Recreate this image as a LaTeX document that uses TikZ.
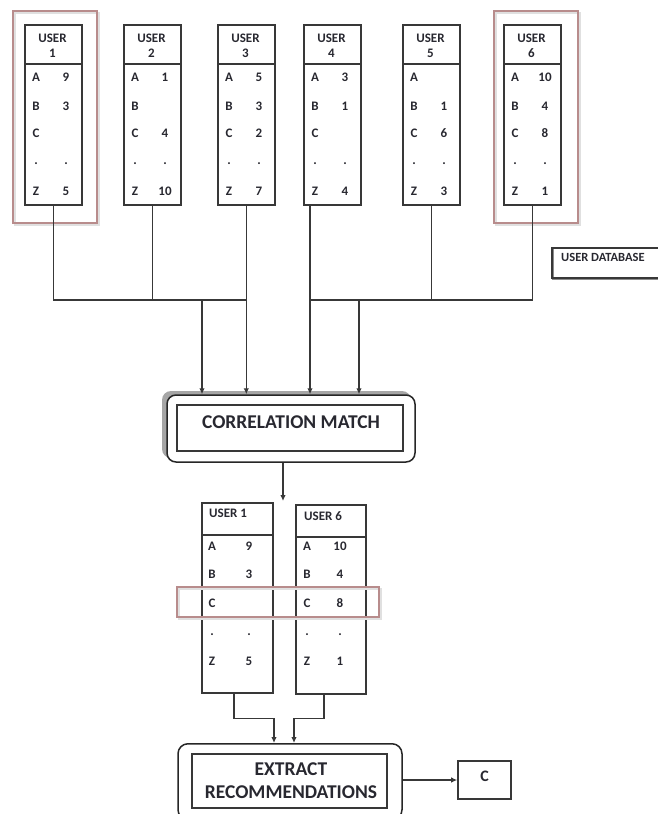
\documentclass[tikz,border=0pt]{standalone}
\usepackage{fontspec}
\setmainfont{Carlito}
\usetikzlibrary{arrows.meta}
\definecolor{hlcol}{RGB}{184,140,140}
\definecolor{ink}{RGB}{40,40,48}
\begin{document}
\begin{tikzpicture}[x=1pt,y=-1pt,
  ln/.style={draw=black!78, line width=1.6pt},
  ubox/.style={draw=black!78, line width=1.6pt, rectangle, inner sep=0pt},
  hl/.style={draw=hlcol, line width=1.6pt},
  hlsh/.style={draw=black!12, line width=1.4pt},
  txt/.style={font=\bfseries\fontsize{13}{13}\selectfont, text=ink, inner sep=0pt},
  bigtxt/.style={font=\bfseries\fontsize{19.5}{23}\selectfont, text=ink, inner sep=0pt, align=center},
  arr/.style={-{Latex[length=6pt,width=5.5pt]}}]
\useasboundingbox (0,0) rectangle (657,814);

% highlight frames (top)
\draw[hlsh] (15,13) rectangle (99,225);
\draw[hl] (13,11) rectangle (97,223);
\draw[hlsh] (496,13) rectangle (580,225);
\draw[hl] (494,11) rectangle (578,223);

% top user boxes
\foreach \i/\L/\va/\vb/\vc/\vz in {1/24/9/3/{}/5, 2/123/1/{}/4/10, 3/217/5/3/2/7, 4/303/3/1/{}/4, 5/402/{}/1/6/3, 6/503/10/4/8/1}{
  \node[ubox, minimum width=57pt, minimum height=180pt, anchor=north west, fill=white] (u\i) at (\L,24) {};
  \draw[ln] (\L,64) -- (\L+57,64);
  \node[txt] (u\i h) at (\L+28.5,38) {USER};
  \node[txt] (u\i n) at (\L+28.5,53) {\i};
  \node[txt] (u\i LA) at (\L+12,77) {A};
  \node[txt] (u\i VA) at (\L+42,77) {\va};
  \node[txt] (u\i LB) at (\L+12,106) {B};
  \node[txt] (u\i VB) at (\L+42,106) {\vb};
  \node[txt] (u\i LC) at (\L+12,133) {C};
  \node[txt] (u\i VC) at (\L+42,133) {\vc};
  \node[txt] (u\i LD) at (\L+12,164) {.};
  \node[txt] (u\i VD) at (\L+42,164) {.};
  \node[txt] (u\i LZ) at (\L+12,191) {Z};
  \node[txt] (u\i VZ) at (\L+42,191) {\vz};
}

% user database label
\draw[black!45, line width=1.4pt] (553,249) -- (553,279) -- (670,279);
\node[ubox, minimum width=120pt, minimum height=30pt, anchor=north west] (db) at (551,247) {};
\node[txt, font=\bfseries\fontsize{12.5}{13}\selectfont, anchor=west] (dbt) at (561,257) {USER DATABASE};

% correlation match
\fill[black!35, rounded corners=9pt] (162,391) rectangle (411,458);
\node[draw=black!85, line width=1.5pt, rounded corners=9pt, fill=white, minimum width=248pt, minimum height=67pt, inner sep=0pt] (cm) at (291,428.5) {};
\node[ubox, minimum width=226pt, minimum height=46pt] (cmi) at (290,428) {};
\node[bigtxt] (cmt) at (291,422) {CORRELATION MATCH};

% connectors from top boxes
\coordinate (jl) at (202,300);
\coordinate (jr) at (359,300);
\coordinate (u4s) at ([xshift=7pt]u4.south west);
\draw[ln] (u1.south) -- (u1.south |- jl) -- (u3.south |- jl);
\draw[ln] (u2.south) -- (u2.south |- jl);
\draw[ln,arr] (u3.south) -- (u3.south |- cm.north);
\draw[ln,arr] (jl) -- (jl |- cm.north);
\draw[ln,arr] (u4s) -- (u4s |- cm.north);
\draw[ln] (u4s |- jr) -- (u6.south |- jr) -- (u6.south);
\draw[ln] (u5.south) -- (u5.south |- jr);
\draw[ln,arr] (jr) -- (jr |- cm.north);

% arrow to selected users
\coordinate (cmend) at (283,501);
\draw[ln,arr] (cmend |- cm.south) -- (cmend);

% bottom boxes
\node[ubox, minimum width=71pt, minimum height=190pt, anchor=north west] (b1) at (201,502) {};
\draw[ln] (201,535) -- (272,535);
\node[ubox, minimum width=70pt, minimum height=189pt, anchor=north west] (b6) at (295,504) {};
\draw[ln] (295,537) -- (365,537);
\node[txt, anchor=west] (b1h) at (209,513) {USER 1};
\node[txt, anchor=west] (b6h) at (304,516) {USER 6};
\foreach \y/\l/\a/\b in {546/A/9/10, 574/B/3/4, 603/C/{}/8, 635/./././, 661/Z/5/1}{
  \node[txt] (b1L\y) at (212,\y) {\l};
  \node[txt] (b1V\y) at (249,\y) {\a};
  \node[txt] (b6L\y) at (307,\y) {\l};
  \node[txt] (b6V\y) at (340,\y) {\b};
}
% bottom highlight
\draw[hlsh] (179,589) rectangle (381,619);
\draw[hl] (177,587) rectangle (379,617);

% extract recommendations
\node[draw=black!85, line width=1.5pt, rounded corners=10pt, minimum width=224pt, minimum height=76pt, inner sep=0pt, anchor=north] (er) at (290,743) {};
\node[ubox, minimum width=195pt, minimum height=54pt, anchor=north] (eri) at (289.5,753) {};
\node[bigtxt] (ert) at (291,781) {EXTRACT\\RECOMMENDATIONS};

\draw[ln,arr] ([xshift=-3.5pt]b1.south) -- ++(0,25) -| ([xshift=-16pt]er.north);
\draw[ln,arr] ([xshift=-7pt]b6.south) -- ++(0,24) -| ([xshift=4pt]er.north);

% result
\node[ubox, minimum width=53pt, minimum height=38pt] (cb) at (484.5,780) {};
\node[bigtxt, font=\bfseries\fontsize{16}{18}\selectfont] (cbt) at (484.5,776) {C};
\draw[ln,arr] (er.east |- cb.west) -- (cb.west);
\end{tikzpicture}
\end{document}
